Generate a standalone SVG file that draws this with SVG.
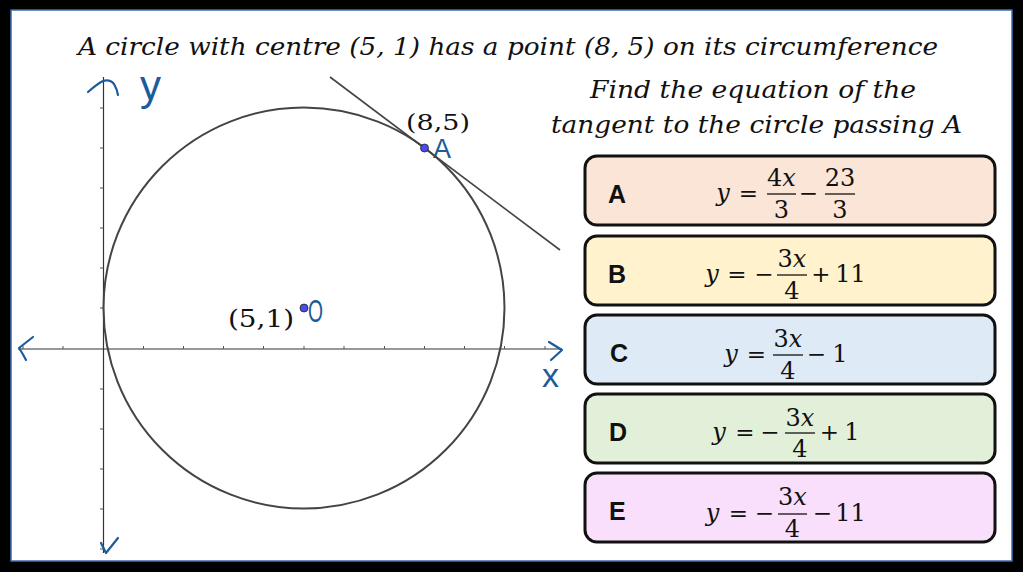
<svg xmlns="http://www.w3.org/2000/svg" width="1023" height="572" viewBox="0 0 1023 572">
<style>
.m{font-family:"DejaVu Serif","Liberation Serif",serif;font-size:24px;fill:#111;text-anchor:middle}
.op{font-family:"DejaVu Serif","Liberation Serif",serif;font-size:23px;fill:#111;text-anchor:middle}
.it{font-style:italic}
.ttl{font-family:"DejaVu Serif","Liberation Serif",serif;font-style:italic;font-size:25px;fill:#111}
.lbl{font-family:"Liberation Sans","Open Sans",sans-serif;font-weight:bold;font-size:25px;fill:#111}
.hand{font-family:"Liberation Sans","DejaVu Sans",sans-serif;fill:#1c5b9c}
.box{stroke:#111;stroke-width:3}
.bar{stroke:#111;stroke-width:1.3}
.ax{stroke:#333;stroke-width:1.2;fill:none}
.tk{stroke:#555;stroke-width:1}
.pen{stroke:#1c5b9c;stroke-width:2.2;fill:none;stroke-linecap:round;stroke-linejoin:round}
.pt{fill:#4b4bf0;stroke:#222;stroke-width:0.8}
</style>
<rect x="0" y="0" width="1023" height="572" fill="#000"/>
<rect x="11" y="10" width="1001" height="551" fill="#fff" stroke="#3d6db0" stroke-width="1.5"/>

<text class="ttl" x="78" y="55" textLength="860" lengthAdjust="spacingAndGlyphs">A circle with centre (5, 1) has a point (8, 5) on its circumference</text>
<text class="ttl" x="590" y="98" textLength="326" lengthAdjust="spacingAndGlyphs">Find the equation of the</text>
<text class="ttl" x="551" y="133" textLength="411" lengthAdjust="spacingAndGlyphs">tangent to the circle passing A</text>

<g id="graph">
  <g id="axes">
    <line class="ax" x1="18" y1="349" x2="562" y2="349"/>
    <line class="ax" x1="103.5" y1="77" x2="103.5" y2="553"/>
    <g class="tk">
      <line x1="23" y1="346" x2="23" y2="349"/><line x1="63" y1="346" x2="63" y2="349"/>
      <line x1="143.5" y1="346" x2="143.5" y2="349"/><line x1="183.5" y1="346" x2="183.5" y2="349"/>
      <line x1="223.5" y1="346" x2="223.5" y2="349"/><line x1="263.5" y1="346" x2="263.5" y2="349"/>
      <line x1="304" y1="346" x2="304" y2="349"/><line x1="344" y1="346" x2="344" y2="349"/>
      <line x1="384.5" y1="346" x2="384.5" y2="349"/><line x1="424.5" y1="346" x2="424.5" y2="349"/>
      <line x1="464.5" y1="346" x2="464.5" y2="349"/><line x1="504.5" y1="346" x2="504.5" y2="349"/>
      <line x1="545" y1="346" x2="545" y2="349"/>
      <line x1="100" y1="108" x2="103.5" y2="108"/><line x1="100" y1="148" x2="103.5" y2="148"/>
      <line x1="100" y1="188" x2="103.5" y2="188"/><line x1="100" y1="228" x2="103.5" y2="228"/>
      <line x1="100" y1="268" x2="103.5" y2="268"/><line x1="100" y1="308" x2="103.5" y2="308"/>
      <line x1="100" y1="389" x2="103.5" y2="389"/><line x1="100" y1="429" x2="103.5" y2="429"/>
      <line x1="100" y1="469" x2="103.5" y2="469"/><line x1="100" y1="509" x2="103.5" y2="509"/>
      <line x1="100" y1="549" x2="103.5" y2="549"/>
    </g>
  </g>
  <g id="annotations">
    <path class="pen" d="M88,92 Q97,84 103,81 Q110,79 114,84 Q117,89 118,95"/>
    <path class="pen" d="M33,337 L19,348 Q23,354 26,360"/>
    <path class="pen" d="M549,342 L562,350 L551,360"/>
    <path class="pen" d="M101,543 L106,553 L118,538"/>
    <text class="hand" x="140" y="100" style="font-size:42px">y</text>
    <text class="hand" x="542" y="387" style="font-size:34px">x</text>
    <text class="hand" x="433" y="158" style="font-size:27px">A</text>
    <text class="hand" x="308" y="322" style="font-size:31px" textLength="15" lengthAdjust="spacingAndGlyphs">O</text>
  </g>
  <circle id="circle" cx="304" cy="308" r="200.5" fill="none" stroke="#444" stroke-width="2"/>
  <line id="tangent" x1="330" y1="77" x2="560" y2="250" stroke="#444" stroke-width="1.6"/>
  <g id="pointA">
    <circle class="pt" cx="424.5" cy="148" r="4"/>
    <text class="m" x="438" y="130" textLength="64" lengthAdjust="spacingAndGlyphs" style="font-size:23px">(8,5)</text>
  </g>
  <g id="pointO">
    <circle class="pt" cx="304" cy="308" r="4"/>
    <text class="m" x="261" y="327" textLength="66" lengthAdjust="spacingAndGlyphs" style="font-size:24px">(5,1)</text>
  </g>
</g>

<g id="optA">
  <rect class="box" x="585" y="156" width="410" height="69" rx="12" fill="#fbe5d6"/>
  <text class="lbl" x="608" y="203">A</text>
  <text class="m it" x="723" y="201">y</text>
  <text class="op" x="748.5" y="201">=</text>
  <text class="m" x="781.5" y="186">4<tspan class="it">x</tspan></text>
  <line class="bar" x1="767" y1="194" x2="796" y2="194"/>
  <text class="m" x="781.5" y="218">3</text>
  <text class="op" x="808.5" y="201">−</text>
  <text class="m" x="840" y="186">23</text>
  <line class="bar" x1="825" y1="194" x2="855" y2="194"/>
  <text class="m" x="840" y="218">3</text>
</g>

<g id="optB">
  <rect class="box" x="585" y="236" width="410" height="69" rx="12" fill="#fff2cc"/>
  <text class="lbl" x="608" y="283">B</text>
  <text class="m it" x="712" y="282">y</text>
  <text class="op" x="737" y="282">=</text>
  <text class="op" x="764" y="282">−</text>
  <text class="m" x="792" y="267">3<tspan class="it">x</tspan></text>
  <line class="bar" x1="777" y1="275" x2="807" y2="275"/>
  <text class="m" x="792" y="299">4</text>
  <text class="op" x="821" y="282">+</text>
  <text class="m" x="850.5" y="282">11</text>
</g>

<g id="optC">
  <rect class="box" x="585" y="315" width="410" height="69" rx="12" fill="#deebf7"/>
  <text class="lbl" x="610" y="362">C</text>
  <text class="m it" x="731" y="362">y</text>
  <text class="op" x="756.5" y="362">=</text>
  <text class="m" x="788" y="347">3<tspan class="it">x</tspan></text>
  <line class="bar" x1="773" y1="355" x2="803" y2="355"/>
  <text class="m" x="788" y="379">4</text>
  <text class="op" x="816.5" y="362">−</text>
  <text class="m" x="840" y="362">1</text>
</g>

<g id="optD">
  <rect class="box" x="585" y="394" width="410" height="69" rx="12" fill="#e2f0d9"/>
  <text class="lbl" x="609" y="441">D</text>
  <text class="m it" x="719" y="440">y</text>
  <text class="op" x="745" y="440">=</text>
  <text class="op" x="770" y="440">−</text>
  <text class="m" x="800" y="426">3<tspan class="it">x</tspan></text>
  <line class="bar" x1="785" y1="433" x2="815" y2="433"/>
  <text class="m" x="800" y="457">4</text>
  <text class="op" x="829.5" y="440">+</text>
  <text class="m" x="852" y="440">1</text>
</g>

<g id="optE">
  <rect class="box" x="585" y="473" width="410" height="69" rx="12" fill="#f9dffb"/>
  <text class="lbl" x="609" y="520">E</text>
  <text class="m it" x="712.5" y="521">y</text>
  <text class="op" x="738.5" y="521">=</text>
  <text class="op" x="764.5" y="521">−</text>
  <text class="m" x="792.5" y="505">3<tspan class="it">x</tspan></text>
  <line class="bar" x1="778" y1="514" x2="807" y2="514"/>
  <text class="m" x="792.5" y="537">4</text>
  <text class="op" x="822.5" y="521">−</text>
  <text class="m" x="850.5" y="521">11</text>
</g>
</svg>
